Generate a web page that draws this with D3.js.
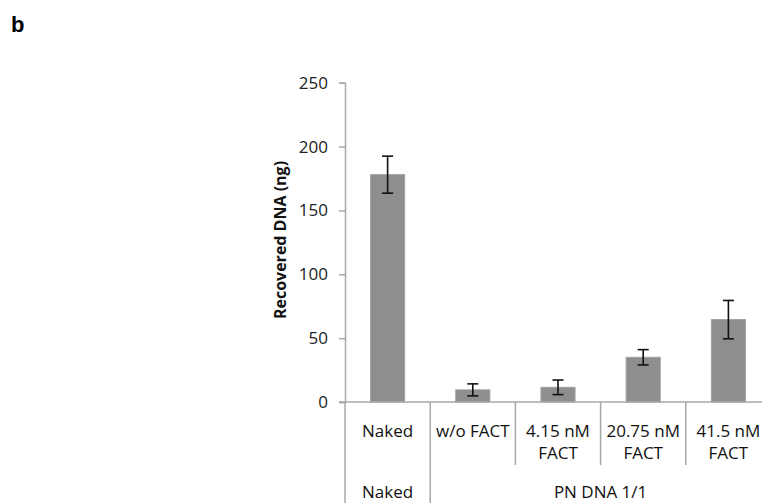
<!DOCTYPE html>
<html>
<head>
<meta charset="utf-8">
<script src="https://cdn.jsdelivr.net/npm/d3@7"></script>
<style>
html,body{margin:0;padding:0;background:#fff;}
svg{display:block;}
</style>
</head>
<body>
<svg id="chart" width="762" height="503"></svg>
<script>
// ---- data ----
const categories = ["Naked", "w/o FACT", "4.15 nM FACT", "20.75 nM FACT", "41.5 nM FACT"];
const categoryLines = [["Naked"], ["w/o FACT"], ["4.15 nM", "FACT"], ["20.75 nM", "FACT"], ["41.5 nM", "FACT"]];
const values = [178, 9.5, 11.5, 35, 64.5];
const errors = [14.5, 4.7, 5.7, 6, 15];
const groupLabels = ["Naked", "PN DNA 1/1"];
const groupSpans = [[0, 0], [1, 4]];
const yTicks = [0, 50, 100, 150, 200, 250];
const yLabel = "Recovered DNA (ng)";
const panelLabel = "b";

// ---- layout ----
const svg = d3.select("#chart");
const axisColor = "#a8a8a8";
const font = "'Open Sans', sans-serif";
const x0 = 345, x1 = 771, yTop = 82.7, yBase = 402;

const x = d3.scaleBand().domain(categories).range([x0, x1]).paddingInner(0).paddingOuter(0);
const y = d3.scaleLinear().domain([0, 250]).range([yBase, yTop]);
const barW = x.bandwidth() * 0.4;

// panel label
svg.append("text").attr("x", 11).attr("y", 32)
  .attr("font-family", "'Liberation Sans', Arial, sans-serif")
  .attr("font-weight", "bold").attr("font-size", 22).attr("fill", "#000")
  .text(panelLabel);

// y axis
const yAxis = d3.axisLeft(y).tickValues(yTicks).tickSize(6).tickPadding(11).tickFormat(d3.format("d"));
const gy = svg.append("g").attr("transform", `translate(${x0},0)`).call(yAxis);
gy.select(".domain").attr("stroke", axisColor).attr("stroke-width", 1.5);
gy.selectAll(".tick line").attr("stroke", axisColor).attr("stroke-width", 1.5);
gy.selectAll(".tick text").attr("font-family", font).attr("font-size", 17).attr("fill", "#222");

// y label
svg.append("text")
  .attr("transform", `translate(286,240) rotate(-90)`)
  .attr("text-anchor", "middle")
  .attr("font-family", font).attr("font-weight", "bold").attr("font-size", 16).attr("fill", "#111")
  .text(yLabel);

// bars
svg.append("g").selectAll("rect").data(categories).join("rect")
  .attr("x", d => x(d) + (x.bandwidth() - barW) / 2)
  .attr("y", (d, i) => y(values[i]))
  .attr("width", barW)
  .attr("height", (d, i) => yBase - y(values[i]))
  .attr("fill", "#8e8e8e")
  .attr("stroke", "#a0a0a0").attr("stroke-width", 1);

// error bars
const eg = svg.append("g").attr("stroke", "#111").attr("stroke-width", 1.6);
categories.forEach((c, i) => {
  const cx = x(c) + x.bandwidth() / 2;
  const hi = y(values[i] + errors[i]), lo = y(values[i] - errors[i]);
  eg.append("line").attr("x1", cx).attr("x2", cx).attr("y1", hi).attr("y2", lo);
  eg.append("line").attr("x1", cx - 5.5).attr("x2", cx + 5.5).attr("y1", hi).attr("y2", hi);
  eg.append("line").attr("x1", cx - 5.5).attr("x2", cx + 5.5).attr("y1", lo).attr("y2", lo);
});

// x axis baseline
svg.append("line").attr("x1", x0 - 6).attr("x2", 762).attr("y1", yBase).attr("y2", yBase)
  .attr("stroke", axisColor).attr("stroke-width", 1.5);

// category dividers
const row1Bottom = 465, row2Bottom = 503;
const groupStarts = groupSpans.map(s => s[0]);
categories.forEach((c, i) => {
  const bx = x(c);
  const full = groupStarts.includes(i);
  svg.append("line").attr("x1", bx).attr("x2", bx).attr("y1", yBase).attr("y2", full ? row2Bottom : row1Bottom)
    .attr("stroke", axisColor).attr("stroke-width", 1.5);
});

// category labels
const lg = svg.append("g").attr("font-family", font).attr("font-size", 17).attr("fill", "#111").attr("text-anchor", "middle");
categories.forEach((c, i) => {
  const cx = x(c) + x.bandwidth() / 2;
  categoryLines[i].forEach((ln, j) => {
    lg.append("text").attr("x", cx).attr("y", 437 + j * 22).text(ln);
  });
});

// group labels
groupLabels.forEach((g, k) => {
  const s = groupSpans[k];
  const gx0 = x(categories[s[0]]), gx1 = x(categories[s[1]]) + x.bandwidth();
  lg.append("text").attr("x", (gx0 + gx1) / 2).attr("y", 498).text(g);
});
</script>
</body>
</html>
